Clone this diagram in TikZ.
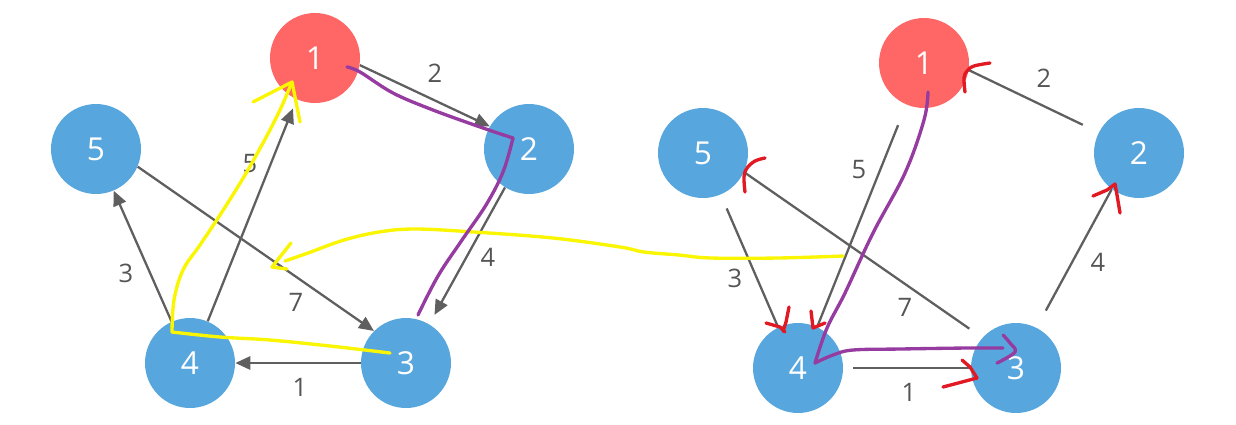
\documentclass[tikz,border=0pt]{standalone}
\usepackage{fontspec}
\setmainfont{Open Sans}
\usepackage{tikz}
\usetikzlibrary{arrows.meta}

\definecolor{node_red}{RGB}{255,102,102}
\definecolor{node_blue}{RGB}{88,166,222}
\definecolor{edge_gray}{RGB}{95,95,95}
\definecolor{label_gray}{RGB}{85,85,85}
\definecolor{ink_yellow}{RGB}{250,245,0}
\definecolor{ink_purple}{RGB}{150,60,160}
\definecolor{ink_red}{RGB}{225,25,35}

\begin{document}
\begin{tikzpicture}[
  x = 0.02cm, y = -0.02cm,
  vertex_root/.style={circle, text centered, fill=node_red, text=white, inner sep=0pt,
    minimum size = 1.8cm, font=\fontsize{18}{20}\selectfont},
  vertex/.style={vertex_root, fill=node_blue},
  weight/.style={text=label_gray, inner sep=0pt, font=\fontsize{14.5}{17}\selectfont},
  line/.style={draw=edge_gray, line width=1.3pt, -{Triangle[length=8.5pt, width=7.5pt]}},
  plain_line/.style={draw=edge_gray, line width=1.3pt, -},
  ink/.style={line width=1.9pt, line cap=round, line join=round},
  ink_y/.style={ink, draw=ink_yellow},
  ink_p/.style={ink, draw=ink_purple},
  ink_r/.style={ink, draw=ink_red}
  ]
\useasboundingbox (0,0) rectangle (1236,424);

\node [vertex_root] (l1) at (315,58) {1};
\node [vertex] (l2) at (529,149) {2};
\node [vertex] (l5) at (96,149) {5};
\node [vertex] (l4) at (190,363) {4};
\node [vertex] (l3) at (406,363) {3};

\node [vertex_root] (r1) at (924,63) {1};
\node [vertex] (r2) at (1139,153) {2};
\node [vertex] (r5) at (703,153) {5};
\node [vertex] (r4) at (798,368) {4};
\node [vertex] (r3) at (1016,368) {3};

\path [line] (l1.-9) -- (l2.150);
\path [line, shorten >=6pt] (l2.238) -- (l3.59);
\path [line] (l3.180) -- (l4.0);
\path [line] (l4.114) -- (l5.-67);
\path [line, shorten >=5.5pt] (l4.67) -- (l1.246);
\path [line] (l5.-23) -- (l3.135);

\node [weight] (l12_w) at (435,73) {2};
\node [weight] (l23_w) at (488,257) {4};
\node [weight] (l34_w) at (300,387) {1};
\node [weight] (l45_w) at (126,273) {3};
\node [weight] (l41_w) at (250,164) {5};
\node [weight] (l53_w) at (296,302) {7};

\path [plain_line, shorten <=10pt] (r2.153) -- (r1.-9);
\path [plain_line, shorten <=12.5pt] (r1.247) -- (r4.65);
\path [plain_line, shorten <=8.5pt] (r5.293) -- (r4.116);
\path [plain_line, shorten <=9pt] (r3.138) -- (r5.-25);
\path [plain_line, shorten <=11pt] (r3.63) -- (r2.233);
\path [plain_line, shorten <=5.7pt] (r4.0) -- (r3.180);

\node [weight] (r21_w) at (1044,78) {2};
\node [weight] (r14_w) at (859,170) {5};
\node [weight] (r54_w) at (735,278) {3};
\node [weight] (r35_w) at (905,307) {7};
\node [weight] (r32_w) at (1098,262) {4};
\node [weight] (r43_w) at (909,392) {1};

\draw [ink_y] plot [smooth, tension=0.6] coordinates {(390,353) (330,346) (270,340) (220,337) (172,332)};
\draw [ink_y] plot [smooth, tension=0.6] coordinates {(172,332) (174,300) (183,270) (200,245) (220,215) (242,180) (263,143) (280,110) (292,82)};
\draw [ink_y] (253,102) -- (292,82) -- (300,122);
\draw [ink_y] plot [smooth, tension=0.6] coordinates {(843,256) (778,258) (711,258) (679,255) (644,252) (620,247) (553,238) (474,232) (415,229) (379,232) (344,240) (308,253) (285,261)};
\draw [ink_y] (291,243) -- (272,267) -- (287,269);

\draw [ink_p] plot [smooth, tension=0.6] coordinates {(347,67) (360,72) (393,93) (433,110) (483,128) (513,138)};
\draw [ink_p] plot [smooth, tension=0.6] coordinates {(513,138) (503,172) (486,205) (462,240) (438,276) (418,315)};
\draw [ink_p] plot [smooth, tension=0.6] coordinates {(928,92) (924,120) (905,173) (873,233) (845,293) (827,328) (815,363)};
\draw [ink_p] plot [smooth, tension=0.6] coordinates {(815,363) (833,355) (853,350) (900,349) (967,348) (1003,348)};
\draw [ink_p] plot [smooth, tension=0.6] coordinates {(1003,335) (1010,343) (1015,352) (997,363)};

\draw [ink_r] plot [smooth, tension=0.6] coordinates {(965,92) (964,78) (967,71) (974,66) (990,63)};
\draw [ink_r] plot [smooth, tension=0.6] coordinates {(745,192) (744,177) (747,168) (755,161) (765,158)};
\draw [ink_r] (1093,196) -- (1107,190) -- (1115,184) -- (1117,195) -- (1120,213);
\draw [ink_r] (766,323) -- (780,327) -- (785,332);
\draw [ink_r] (789,307) -- (786,322) -- (783,331);
\draw [ink_r] (811,311) -- (813,328) -- (825,323);
\draw [ink_r] (943,387) -- (977,378);
\draw [ink_r] (962,360) -- (970,367) -- (977,378);
\end{tikzpicture}
\end{document}
